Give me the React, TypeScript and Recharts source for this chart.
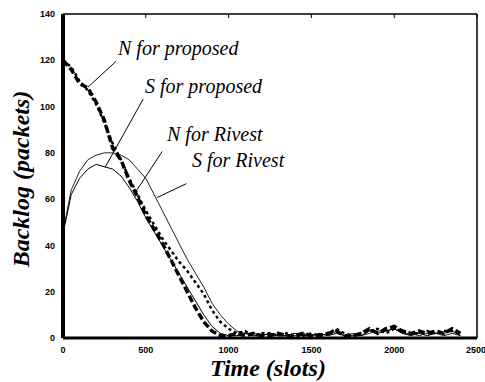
import React from "react";
import {
  LineChart,
  Line,
  XAxis,
  YAxis,
  ReferenceLine,
} from "recharts";

// time axis (slots), one sample every 50 slots; the run ends at 2400
const slots = [
  0, 50, 100, 150, 200, 250, 300, 350, 400, 450, 500, 550, 600, 650, 700, 750, 800, 850, 900, 950,
  1000, 1050, 1100, 1150, 1200, 1250, 1300, 1350, 1400, 1450, 1500, 1550, 1600, 1650, 1700, 1750,
  1800, 1850, 1900, 1950, 2000, 2050, 2100, 2150, 2200, 2250, 2300, 2350, 2400,
];

const nProposed = [
  120, 116, 110, 108, 102, 94, 82, 77, 68, 61, 53, 47, 41, 34, 27, 20, 13, 7, 3, 1,
  1, 2, 1, 2, 1, 1, 2, 1, 1, 2, 1, 1, 2, 3, 1, 1, 2, 4, 2, 4, 5, 3, 2, 3, 2, 3, 2, 4, 2,
];
const sProposed = [
  45, 62, 69, 73, 75, 74, 73, 70, 65, 59, 52, 46, 40, 34, 28, 22, 16, 10, 5, 2,
  1, 1, 2, 1, 1, 2, 1, 1, 2, 1, 1, 2, 1, 2, 1, 1, 1, 3, 2, 3, 4, 2, 1, 2, 1, 2, 2, 3, 1,
];
const nRivest = [
  120, 117, 111, 107, 101, 93, 84, 77, 69, 62, 55, 49, 43, 38, 33, 29, 24, 19, 12, 7,
  4, 2, 3, 1, 2, 2, 1, 2, 1, 1, 2, 1, 2, 4, 2, 1, 2, 3, 4, 2, 4, 3, 2, 2, 3, 2, 3, 3, 2,
];
const sRivest = [
  46, 64, 72, 77, 79, 80, 80, 79, 77, 73, 69, 62, 55, 48, 41, 34, 28, 22, 15, 10,
  6, 3, 2, 2, 1, 2, 1, 1, 1, 2, 1, 2, 1, 3, 1, 2, 1, 2, 3, 3, 4, 2, 2, 1, 2, 2, 1, 2, 1,
];

const xTicks = [0, 500, 1000, 1500, 2000, 2500];
const yTicks = [0, 20, 40, 60, 80, 100, 120, 140];

// leader lines from the labels to the curves, in data units
const leaders = [
  { name: "N for proposed", from: [321, 119.6], to: [151, 108.4] },
  { name: "S for proposed", from: [484, 103.2], to: [254, 73.7] },
  { name: "N for Rivest", from: [599, 80.6], to: [436, 62.8] },
  { name: "S for Rivest", from: [745, 66.7], to: [569, 60.7] },
];

const data = slots.map((t, i) => ({
  t,
  nProposed: nProposed[i],
  sProposed: sProposed[i],
  nRivest: nRivest[i],
  sRivest: sRivest[i],
}));

const tickStyle = {
  fontSize: 9,
  fontWeight: 700,
  fill: "#000",
  fontFamily: "'Liberation Sans', Arial, sans-serif",
};

const serif = "'Liberation Serif', 'Times New Roman', serif";

export default function App() {
  return (
    <div style={{ position: "absolute", left: 0, top: 0, width: 485, height: 382, background: "#fff" }}>
      <LineChart
        width={485}
        height={382}
        data={data}
        margin={{ top: 14, right: 8, left: 43, bottom: 30 }}
      >
        <XAxis
          dataKey="t"
          type="number"
          domain={[0, 2500]}
          ticks={xTicks}
          tick={tickStyle}
          tickLine={false}
          tickMargin={3}
          height={14}
          axisLine={{ stroke: "#000", strokeWidth: 3 }}
        />
        <XAxis
          xAxisId="top"
          orientation="top"
          type="number"
          dataKey="t"
          domain={[0, 2500]}
          ticks={xTicks}
          height={1}
          mirror
          tickSize={4}
          tickFormatter={() => ""}
          axisLine={{ stroke: "#000", strokeWidth: 1 }}
          tickLine={{ stroke: "#000" }}
        />
        <YAxis
          type="number"
          domain={[0, 140]}
          ticks={yTicks}
          tick={tickStyle}
          tickLine={false}
          tickMargin={2}
          width={20}
          axisLine={{ stroke: "#000", strokeWidth: 4 }}
        />
        <YAxis
          yAxisId="right"
          orientation="right"
          type="number"
          domain={[0, 140]}
          ticks={yTicks}
          width={1}
          mirror
          tickSize={4}
          tickFormatter={() => ""}
          axisLine={{ stroke: "#000", strokeWidth: 1 }}
          tickLine={{ stroke: "#000" }}
        />

        <Line
          dataKey="sRivest"
          stroke="#222"
          strokeWidth={1}
          dot={false}
          isAnimationActive={false}
        />
        <Line
          dataKey="sProposed"
          stroke="#000"
          strokeWidth={1}
          dot={false}
          isAnimationActive={false}
        />
        <Line
          dataKey="nRivest"
          stroke="#000"
          strokeWidth={2.5}
          strokeDasharray="3 3"
          dot={false}
          isAnimationActive={false}
        />
        <Line
          dataKey="nProposed"
          stroke="#000"
          strokeWidth={3.5}
          strokeDasharray="7 3"
          dot={false}
          isAnimationActive={false}
        />

        <ReferenceLine y={140} stroke="#000" strokeWidth={1} />
        <ReferenceLine x={2500} stroke="#000" strokeWidth={1} />

        {leaders.map((l) => (
          <ReferenceLine
            key={l.name}
            segment={[
              { x: l.from[0], y: l.from[1] },
              { x: l.to[0], y: l.to[1] },
            ]}
            stroke="#000"
            strokeWidth={1}
            ifOverflow="visible"
          />
        ))}
      </LineChart>

      <svg
        width={485}
        height={382}
        style={{ position: "absolute", left: 0, top: 0, pointerEvents: "none" }}
      >
        <g style={{ fontFamily: serif, fontStyle: "italic", fontSize: 20 }} fill="#000">
          <text x={118} y={55}>N for proposed</text>
          <text x={145} y={93}>S for proposed</text>
          <text x={167} y={141}>N for Rivest</text>
          <text x={192} y={167}>S for Rivest</text>
        </g>
        <text
          x={268}
          y={376}
          textAnchor="middle"
          style={{ fontFamily: serif, fontStyle: "italic", fontWeight: 700, fontSize: 24 }}
        >
          Time (slots)
        </text>
        <text
          transform="translate(29,179) rotate(-90)"
          textAnchor="middle"
          style={{ fontFamily: serif, fontStyle: "italic", fontWeight: 700, fontSize: 24 }}
        >
          Backlog (packets)
        </text>
      </svg>
    </div>
  );
}
